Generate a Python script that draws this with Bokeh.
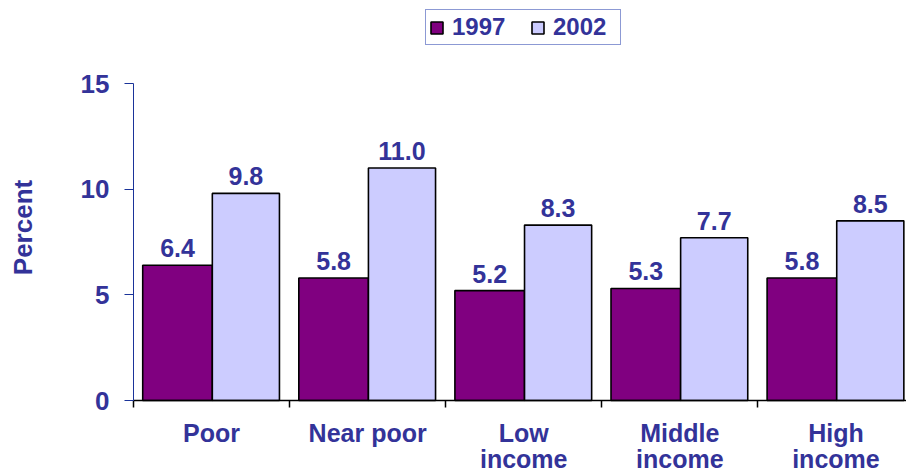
from bokeh.plotting import figure
from bokeh.models import (ColumnDataSource, LabelSet, Label, FixedTicker, Legend, LegendItem, Range1d)
from bokeh.core.properties import value
from bokeh.embed import file_html
from bokeh.resources import INLINE

categories = ["Poor", "Near poor", "Low\nincome", "Middle\nincome", "High\nincome"]
series_names = ["1997", "2002"]
values_1997 = [6.4, 5.8, 5.2, 5.3, 5.8]
values_2002 = [9.8, 11.0, 8.3, 7.7, 8.5]
y_ticks = [0, 5, 10, 15]

TEXT = "#333399"
FONT = "Liberation Sans"

idx = list(range(len(categories)))
src97 = ColumnDataSource(dict(x=[i + 0.282 for i in idx], top=values_1997,
                              lab=[f"{v:.1f}" for v in values_1997]))
src02 = ColumnDataSource(dict(x=[i + 0.72 for i in idx], top=values_2002,
                              lab=[f"{v:.1f}" for v in values_2002]))
lines = [c.split("\n") + [""] for c in categories]
srccat1 = ColumnDataSource(dict(x=[i + 0.5 for i in idx], y=[0] * len(idx),
                                lab=[l[0] for l in lines]))
srccat2 = ColumnDataSource(dict(x=[i + 0.5 for i in idx], y=[0] * len(idx),
                                lab=[l[1] for l in lines]))

# frame covers the whole canvas; axes are pinned at data zero
p = figure(width=906, height=472, output_backend="svg", toolbar_location=None,
           x_range=Range1d(-0.852, 4.952), y_range=Range1d(-3.407, 18.928),
           min_border_left=0, min_border_right=0, min_border_top=0, min_border_bottom=0)
p.outline_line_color = None
p.grid.visible = False
p.background_fill_color = "white"

r97 = p.vbar(x="x", top="top", width=0.446, source=src97, fill_color="#800080",
             line_color="black", line_width=1.6)
r02 = p.vbar(x="x", top="top", width=0.43, source=src02, fill_color="#ccccff",
             line_color="black", line_width=1.6)

for s in (src97, src02):
    p.add_layout(LabelSet(x="x", y="top", text="lab", source=s, y_offset=8,
                          text_align="center", text_baseline="bottom",
                          text_font=value(FONT), text_font_style="bold",
                          text_font_size="25px", text_color=TEXT))

# category labels under the axis, one LabelSet per line so each line is centred
for s, off in ((srccat1, -41), (srccat2, -67)):
    p.add_layout(LabelSet(x="x", y="y", text="lab", source=s, y_offset=off,
                          text_align="center", text_baseline="alphabetic",
                          text_font=value(FONT), text_font_style="bold",
                          text_font_size="25px", text_color=TEXT))

# y axis
ya = p.yaxis[0]
ya.fixed_location = 0
ya.bounds = (0, 15)
ya.ticker = FixedTicker(ticks=y_ticks)
ya.axis_line_color = "#1a3399"
ya.major_tick_line_color = "#1a3399"
ya.major_tick_out = 9
ya.major_tick_in = 0
ya.minor_tick_line_color = None
ya.major_label_text_font = FONT
ya.major_label_text_font_style = "bold"
ya.major_label_text_font_size = "26px"
ya.major_label_text_color = TEXT
ya.major_label_standoff = 15

p.add_layout(Label(x=22, y=245, x_units="screen", y_units="screen", text="Percent",
                   angle=90, angle_units="deg", text_align="center", text_baseline="middle",
                   text_font=FONT, text_font_style="bold", text_font_size="26px",
                   text_color=TEXT))

# x axis: tick marks at category boundaries, labels drawn separately
xa = p.xaxis[0]
xa.fixed_location = 0
xa.bounds = (0, len(categories))
xa.ticker = FixedTicker(ticks=list(range(len(categories) + 1)), minor_ticks=[])
xa.major_label_text_color = None
xa.axis_line_color = "black"
xa.axis_line_width = 1.5
xa.major_tick_line_color = "black"
xa.major_tick_line_width = 1.5
xa.major_tick_out = 7
xa.major_tick_in = 0
xa.minor_tick_line_color = None

legend = Legend(items=[LegendItem(label=series_names[0], renderers=[r97]),
                       LegendItem(label=series_names[1], renderers=[r02])],
                orientation="horizontal", location=(425, 427),
                border_line_color="#1a33aa", border_line_width=1.5,
                label_text_font=FONT, label_text_font_style="bold",
                label_text_font_size="24px", label_text_color=TEXT,
                glyph_width=15, glyph_height=15, spacing=14, padding=3,
                margin=0, label_standoff=8, label_width=64, label_height=28,
                background_fill_alpha=1)
p.add_layout(legend, "center")

open("out.html", "w").write(file_html(p, INLINE))
